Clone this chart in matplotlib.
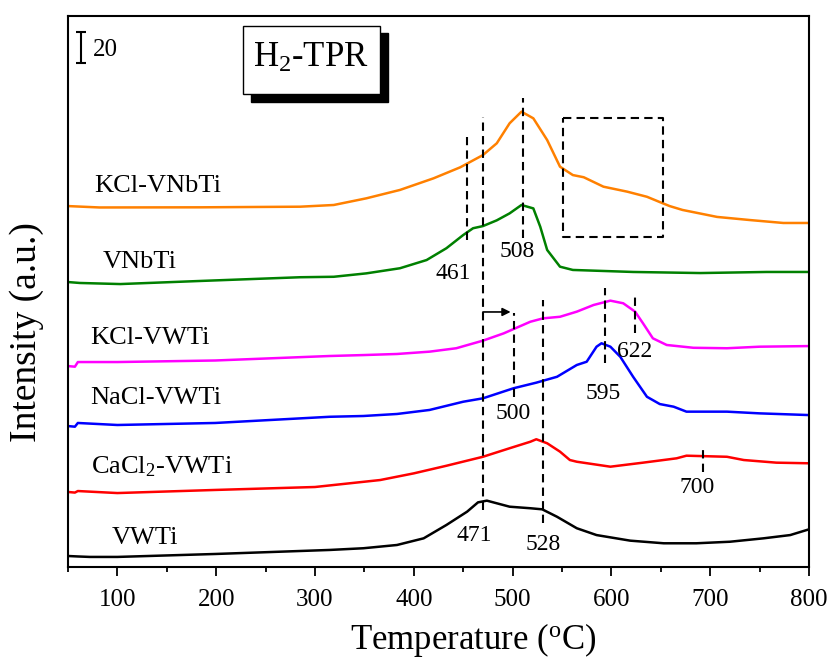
import matplotlib
matplotlib.use("Agg")
import matplotlib.pyplot as plt
from matplotlib.patches import Rectangle
from matplotlib.ticker import MultipleLocator

plt.rcParams["font.family"] = ["Liberation Serif", "DejaVu Serif"]
plt.rcParams["mathtext.fontset"] = "custom"
plt.rcParams["mathtext.rm"] = "Liberation Serif"
plt.rcParams["mathtext.it"] = "Liberation Serif:italic"

# H2-TPR profiles (temperature in C, intensity in a.u., offset)
t_vwti = [50, 60, 72, 100, 199, 315, 349, 383, 410, 433, 454, 465, 474, 484, 497,
          518, 530, 545, 565, 585, 619, 653, 686, 720, 754, 781, 800]
i_vwti = [7.1, 6.8, 6.5, 6.5, 8.4, 11.0, 12.1, 14.2, 18.5, 27.1, 35.7, 41.7, 42.8,
          41.1, 38.9, 37.9, 37.2, 32.4, 25.0, 20.6, 17.0, 15.3, 15.3, 16.3, 18.5,
          20.6, 24.3]

t_ca = [50, 57, 60, 100, 199, 300, 366, 400, 433, 470, 497, 518, 524, 535, 548,
        558, 565, 599, 632, 666, 676, 717, 734, 767, 800]
i_ca = [48.4, 48.0, 49.0, 47.7, 49.7, 51.6, 56.1, 60.4, 65.3, 71.1, 76.6, 80.8, 82.4,
        79.8, 74.4, 69.0, 67.9, 64.7, 67.3, 70.1, 71.8, 71.1, 69.0, 67.3, 66.9]

t_na = [50, 57, 60, 100, 199, 315, 349, 383, 416, 450, 470, 501, 524, 545, 565,
        575, 585, 590, 599, 609, 622, 636, 649, 663, 676, 717, 750, 800]
i_na = [90.9, 90.5, 92.9, 91.6, 92.9, 96.9, 97.4, 98.7, 101.3, 106.6, 108.8, 115.3,
        118.9, 122.7, 130.3, 132.4, 142.1, 144.3, 142.1, 135.6, 122.7, 109.8, 105.1,
        103.4, 100.2, 100.2, 99.1, 98.0]

t_k = [50, 57, 60, 100, 199, 315, 349, 383, 416, 443, 470, 491, 518, 531, 548,
       565, 582, 599, 612, 624, 632, 642, 656, 683, 717, 750, 800]
i_k = [129.6, 129.2, 132.2, 132.2, 133.2, 136.1, 136.7, 137.4, 138.9, 141.1, 146.0,
       150.7, 158.2, 160.4, 161.4, 164.7, 169.0, 171.8, 170.1, 164.7, 157.2, 147.5,
       143.2, 141.4, 141.1, 142.1, 142.5]

t_nb = [50, 62, 103, 184, 285, 319, 352, 386, 413, 433, 450, 460, 470, 484, 497,
        509, 521, 528, 535, 548, 561, 622, 690, 757, 800]
i_nb = [183.8, 183.2, 182.5, 184.5, 186.9, 187.2, 189.4, 192.7, 198.0, 205.6, 214.1,
        218.5, 219.9, 223.6, 228.1, 233.5, 231.3, 219.5, 204.5, 193.7, 191.6, 190.3,
        189.6, 190.3, 190.3]

t_knb = [50, 82, 184, 285, 319, 352, 386, 420, 447, 470, 484, 497, 509, 521, 535,
         548, 561, 572, 592, 616, 636, 652, 659, 672, 707, 740, 774, 800]
i_knb = [232.8, 231.9, 232.0, 232.4, 233.5, 237.8, 243.2, 250.7, 257.8, 265.7, 273.3,
         286.2, 293.7, 289.4, 275.4, 258.2, 252.8, 251.4, 245.3, 242.1, 238.8, 234.6,
         232.8, 230.3, 225.8, 223.8, 221.9, 221.9]

series = [
    ("VWTi", t_vwti, i_vwti, "#000000"),
    ("CaCl$_2$-VWTi", t_ca, i_ca, "#FF0000"),
    ("NaCl-VWTi", t_na, i_na, "#0000FF"),
    ("KCl-VWTi", t_k, i_k, "#FF00FF"),
    ("VNbTi", t_nb, i_nb, "#008000"),
    ("KCl-VNbTi", t_knb, i_knb, "#FF8000"),
]
# where each sample name sits (T, intensity)
name_pos = [(94, 18.7), (73, 64.5), (73, 109.0), (73, 147.7), (85, 196.7), (77, 246.0)]

# peak markers: (T, y from, y to)
peak_lines = [(454, 210.9, 277.4), (470, 36.8, 290.3), (510.5, 212.2, 302.5),
              (501.4, 109.7, 163.8), (531, 28.4, 172.2), (593.5, 131.6, 180.0),
              (624, 150.9, 175.4), (692.7, 61.3, 78.7)]
peak_text = [("461", 439.7, 189.6), ("508", 504.5, 203.2), ("500", 500.4, 99.3),
             ("471", 461, 20.6), ("528", 530.8, 14.8), ("595", 591.5, 111.6),
             ("622", 624, 138.7), ("700", 686.6, 51.0)]

fig = plt.figure(figsize=(8.31, 6.61), dpi=100)
ax = fig.add_axes([0.0818, 0.1422, 0.8917, 0.8336])

for (name, t, y, c), (nx, ny) in zip(series, name_pos):
    ax.plot(t, y, color=c, lw=1.8)
    ax.text(nx, ny, name, fontsize=19, ha="left", va="center")

dash = dict(color="k", lw=1.5, dashes=(4, 2.5))
for x, y0, y1 in peak_lines:
    ax.plot([x, x], [y0, y1], **dash)
for s, x, y in peak_text:
    ax.text(x, y, s, fontsize=17, ha="center", va="center")

# dashed box around the high-temperature shoulder
ax.plot([551, 652.2, 652.2, 551, 551], [289.6, 289.6, 212.9, 212.9, 289.6], **dash)

# shift arrow
ax.annotate("", xy=(498, 164.5), xytext=(470, 164.5),
            arrowprops=dict(arrowstyle="-|>", color="k", lw=1.2, mutation_scale=12,
                            shrinkA=0, shrinkB=0))

# scale bar
ax.errorbar([63], [335], yerr=10, color="k", lw=1.5, capsize=3.5, capthick=1.5)
ax.text(75.3, 333.5, "20", fontsize=18, ha="left", va="center")

# H2-TPR label box with shadow
ax.add_patch(Rectangle((235.2, 299.9), 138.7, 44.5, facecolor="k", edgecolor="k", zorder=3))
ax.add_patch(Rectangle((227.1, 305.1), 138.7, 43.9, facecolor="white", edgecolor="k",
                       lw=1.0, zorder=4))
ax.text(296, 328, "H$_2$-TPR", fontsize=25, ha="center", va="center", zorder=5)

ax.set_xlim(50, 800)
ax.set_ylim(0, 355.4)
ax.xaxis.set_major_locator(MultipleLocator(100))
ax.xaxis.set_minor_locator(MultipleLocator(50))
ax.set_yticks([])
ax.tick_params(axis="x", which="major", direction="out", length=6.5, width=1.3,
               labelsize=18, pad=9, top=False)
ax.tick_params(axis="x", which="minor", direction="out", length=3.5, width=1.3, top=False)
for sp in ax.spines.values():
    sp.set_linewidth(1.5)

ax.set_xlabel("Temperature ($^{\\mathrm{o}}$C)", fontsize=25)
ax.xaxis.set_label_coords(0.547, -0.098)
ax.set_ylabel("Intensity (a.u.)", fontsize=27)
ax.yaxis.set_label_coords(-0.032, 0.426)

fig.savefig("out.png", dpi=100)
